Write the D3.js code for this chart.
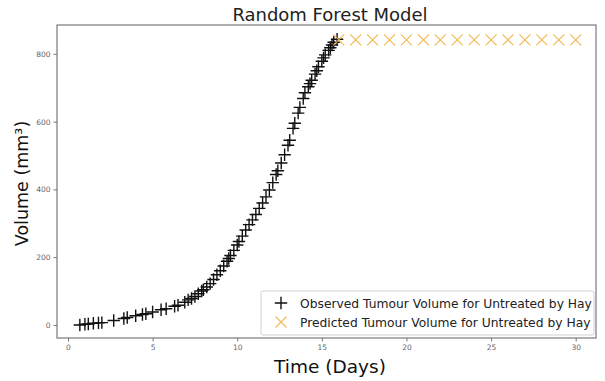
<!DOCTYPE html>
<html>
<head>
<meta charset="utf-8">
<script src="https://cdn.jsdelivr.net/npm/d3@7"></script>
<style>
  html, body { margin: 0; padding: 0; background: #fff; }
  svg { display: block; font-family: "DejaVu Sans", sans-serif; }
</style>
</head>
<body>
<svg id="chart" width="605" height="381"></svg>
<script>
// Observed tumour volume (untreated, Hay): time in days and volume in mm³
const obsDays = [0.7, 1.0, 1.2, 1.5, 1.8, 2.0, 2.7, 3.3, 3.5, 4.0, 4.4, 4.6, 5.0, 5.5, 5.8, 6.3,
  6.5, 6.9, 7.1, 7.3, 7.5, 7.7, 7.9, 8.0, 8.2, 8.4, 8.6, 8.8, 9.0, 9.2, 9.4, 9.5, 9.6, 9.8,
  10.0, 10.1, 10.3, 10.5, 10.7, 10.9, 11.1, 11.3, 11.5, 11.7, 11.9, 12.1, 12.3, 12.4, 12.6,
  12.8, 13.0, 13.1, 13.3, 13.4, 13.6, 13.7, 13.9, 14.0, 14.2, 14.3, 14.4, 14.6, 14.7, 14.8,
  15.0, 15.1, 15.2, 15.4, 15.5, 15.6, 15.7, 15.9];
const obsVolume = [0, 2, 3, 5, 6, 7, 13, 19, 22, 27, 31, 33, 38, 45, 48, 55,
  58, 67, 74, 78, 84, 92, 100, 104, 112, 122, 134, 148, 160, 174, 188, 196, 205, 220,
  236, 246, 262, 280, 296, 310, 326, 344, 360, 378, 398, 420, 444, 455, 478,
  502, 530, 545, 580, 595, 625, 642, 668, 685, 703, 712, 722, 740, 750, 762,
  778, 788, 797, 810, 818, 826, 834, 843];

// Random forest prediction, days 16–30
const predDays = [16, 17, 18, 19, 20, 21, 22, 23, 24, 25, 26, 27, 28, 29, 30];
const predVolume = [841, 841, 841, 841, 841, 841, 841, 841, 841, 841, 841, 841, 841, 841, 841];

const xTicks = [0, 5, 10, 15, 20, 25, 30];
const yTicks = [0, 200, 400, 600, 800];

const titleText = "Random Forest Model";
const xLabel = "Time (Days)";
const yLabel = "Volume (mm³)";
const legendLabels = ["Observed Tumour Volume for Untreated by Hay",
                      "Predicted Tumour Volume for Untreated by Hay"];

const svg = d3.select("#chart");
const plot = { left: 57, right: 596, top: 25, bottom: 338 };

const x = d3.scaleLinear().domain([-0.65, 31.2]).range([plot.left, plot.right]);
const y = d3.scaleLinear().domain([-38.5, 885]).range([plot.bottom, plot.top]);

// Axes frame
svg.append("rect")
  .attr("x", plot.left).attr("y", plot.top)
  .attr("width", plot.right - plot.left).attr("height", plot.bottom - plot.top)
  .attr("fill", "none").attr("stroke", "#7a7a7a").attr("stroke-width", 1.2);

// Axes
const xAxis = d3.axisBottom(x).tickValues(xTicks).tickSize(3.5).tickPadding(3);
const yAxis = d3.axisLeft(y).tickValues(yTicks).tickSize(3.5).tickPadding(3);

const gx = svg.append("g").attr("transform", `translate(0,${plot.bottom})`).call(xAxis);
const gy = svg.append("g").attr("transform", `translate(${plot.left},0)`).call(yAxis);
[gx, gy].forEach(g => {
  g.select(".domain").remove();
  g.selectAll(".tick line").attr("stroke", "#777");
  g.selectAll(".tick text").attr("fill", "#666").attr("font-size", 7.5)
    .attr("font-family", "DejaVu Sans, sans-serif");
});

// Observed: "+" markers
const plusSize = 6.2;
const obs = obsDays.map((d, i) => [d, obsVolume[i]]);
svg.append("g").selectAll("path").data(obs).join("path")
  .attr("d", d => {
    const cx = x(d[0]), cy = y(d[1]);
    return `M${cx - plusSize},${cy}H${cx + plusSize}M${cx},${cy - plusSize}V${cy + plusSize}`;
  })
  .attr("stroke", "#111").attr("stroke-width", 1.4).attr("fill", "none");

// Predicted: "x" markers
const xSize = 5.5;
const pred = predDays.map((d, i) => [d, predVolume[i]]);
svg.append("g").selectAll("path").data(pred).join("path")
  .attr("d", d => {
    const cx = x(d[0]), cy = y(d[1]);
    return `M${cx - xSize},${cy - xSize}L${cx + xSize},${cy + xSize}M${cx - xSize},${cy + xSize}L${cx + xSize},${cy - xSize}`;
  })
  .attr("stroke", "#f0b040").attr("stroke-opacity", 0.85).attr("stroke-width", 1.3).attr("fill", "none");

// Title and axis labels
svg.append("text").attr("x", 330).attr("y", 21)
  .attr("text-anchor", "middle").attr("font-size", 18).attr("fill", "#222").text(titleText);
svg.append("text").attr("x", 330).attr("y", 373)
  .attr("text-anchor", "middle").attr("font-size", 18.5).attr("fill", "#111").text(xLabel);
svg.append("text")
  .attr("transform", `translate(28,${(plot.top + plot.bottom) / 2 + 2}) rotate(-90)`)
  .attr("text-anchor", "middle").attr("font-size", 17.5).attr("fill", "#111").text(yLabel);

// Legend
const lg = svg.append("g");
lg.append("rect").attr("x", 261).attr("y", 291).attr("width", 333).attr("height", 44)
  .attr("rx", 2).attr("fill", "#fff").attr("fill-opacity", 0.85)
  .attr("stroke", "#d0d0d0").attr("stroke-width", 1);
const rowY = [303, 322];
const mx = 281;
lg.append("path")
  .attr("d", `M${mx - plusSize},${rowY[0]}H${mx + plusSize}M${mx},${rowY[0] - plusSize}V${rowY[0] + plusSize}`)
  .attr("stroke", "#111").attr("stroke-width", 1.4);
lg.append("path")
  .attr("d", `M${mx - xSize},${rowY[1] - xSize}L${mx + xSize},${rowY[1] + xSize}M${mx - xSize},${rowY[1] + xSize}L${mx + xSize},${rowY[1] - xSize}`)
  .attr("stroke", "#f0b040").attr("stroke-opacity", 0.85).attr("stroke-width", 1.3);
lg.selectAll("text.lab").data(legendLabels).join("text")
  .attr("class", "lab")
  .attr("x", 300).attr("y", (d, i) => rowY[i] + 4.5)
  .attr("font-size", 12.3).attr("fill", "#222").text(d => d);
</script>
</body>
</html>
